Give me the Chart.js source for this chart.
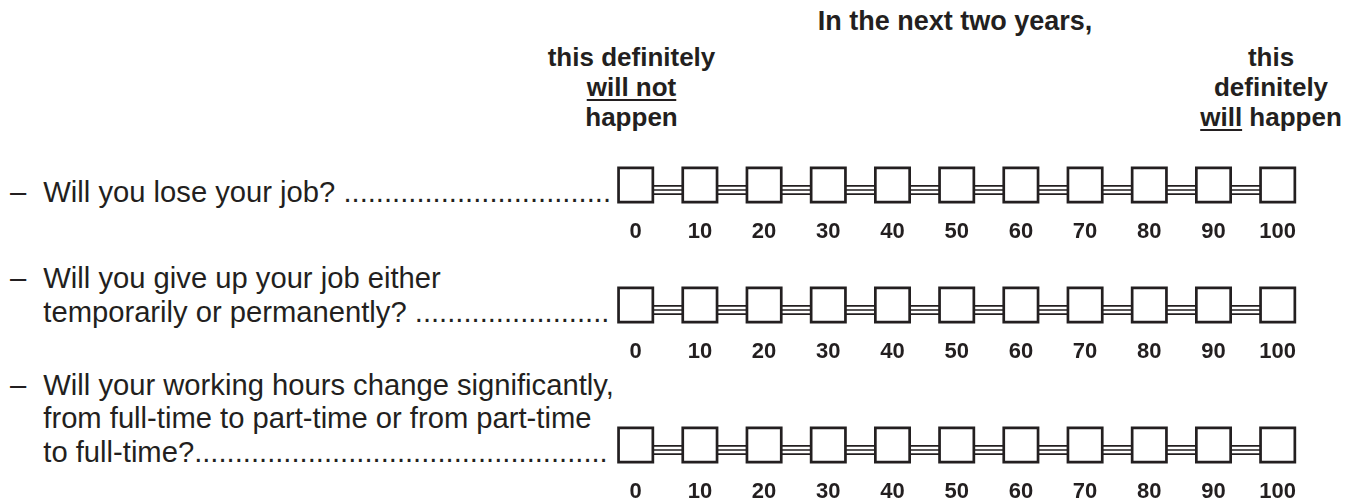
<!DOCTYPE html>
<html><head><meta charset="utf-8">
<script src="https://cdn.jsdelivr.net/npm/chart.js@4.4.1/dist/chart.umd.min.js"></script>
<style>
html,body{margin:0;padding:0;background:#fff;overflow:hidden;width:1346px;height:499px;}
body{position:relative;font-family:"Liberation Sans",Arial,Helvetica,sans-serif;color:#231f20;}
.t{position:absolute;white-space:pre;line-height:1;}
.c{transform:translateX(-50%);text-align:center;}
.b{font-weight:bold;}
u{text-decoration-thickness:2px;text-underline-offset:3px;}
.rowc{position:absolute;left:0;width:1346px;height:110px;}
.rowc canvas{display:block;}
</style></head><body>
<script>
// ---- data ----
const scaleValues = [0, 10, 20, 30, 40, 50, 60, 70, 80, 90, 100];
const tickLabels = ["0", "10", "20", "30", "40", "50", "60", "70", "80", "90", "100"];
const titleText = "In the next two years,";
const lowEndLines = [["this definitely"], ["", "will not", ""], ["happen"]];
const highEndLines = [["this"], ["definitely"], ["", "will", " happen"]];
const questionLines = [
  ["Will you lose your job? ................................."],
  ["Will you give up your job either", "temporarily or permanently? ........................"],
  ["Will your working hours change significantly,", "from full-time to part-time or from part-time", "to full-time?..................................................."]
];

// ---- layout ----
const L = {
  x0: 635.7, x100: 1277.7,
  rowCenters: [184.7, 304.7, 444.7],
  areaTop: 30,
  connectorDrop: 5,
  qSize: 29.2, qLine: 33.5, qLastBase: 18, dashX: 10, qX: 43.3,
  hSize: 26, titleSize: 27
};
const FONT = '"Liberation Sans", Arial, Helvetica, sans-serif';

function place(html, x, baseline, size, bold, center) {
  const d = document.createElement('div');
  d.className = 't' + (bold ? ' b' : '') + (center ? ' c' : '');
  d.style.fontSize = size + 'px';
  d.style.left = x + 'px';
  d.style.top = (baseline - 0.8464 * size) + 'px';
  d.innerHTML = html;
  document.body.appendChild(d);
}
function seg(parts) {
  if (parts.length === 1) return parts[0];
  return parts[0] + '<u>' + parts[1] + '</u>' + parts[2];
}

place(titleText, 955, 31, L.titleSize, true, true);
const hBase = [66, 96, 126];
lowEndLines.forEach((p, i) => place(seg(p), 631.5, hBase[i], L.hSize, true, true));
highEndLines.forEach((p, i) => place(seg(p), 1271, hBase[i], L.hSize, true, true));

questionLines.forEach((lines, r) => {
  const n = lines.length;
  lines.forEach((txt, j) => {
    const base = L.rowCenters[r] + L.qLastBase - (n - 1 - j) * L.qLine;
    if (j === 0) place('\u2013', L.dashX, base, L.qSize, false, false);
    place(txt, L.qX, base, L.qSize, false, false);
  });
});

const shiftPlugin = {
  id: 'shiftConnector',
  beforeDatasetDraw(chart, args) {
    if (chart.data.datasets[args.index].connector) { chart.ctx.save(); chart.ctx.translate(0, L.connectorDrop); }
  },
  afterDatasetDraw(chart, args) {
    if (chart.data.datasets[args.index].connector) chart.ctx.restore();
  }
};

function makeRow(r) {
  const wrap = document.createElement('div');
  wrap.className = 'rowc';
  wrap.style.top = (L.rowCenters[r] - L.areaTop) + 'px';
  const cv = document.createElement('canvas');
  cv.width = 1346; cv.height = 110;
  wrap.appendChild(cv);
  document.body.appendChild(wrap);
  const pts = scaleValues.map(v => ({ x: v, y: 0 }));
  const lineBase = { data: pts, showLine: true, pointRadius: 0, pointHoverRadius: 0, tension: 0, clip: false, connector: true, borderCapStyle: 'butt' };
  new Chart(cv, {
    type: 'scatter',
    data: {
      datasets: [
        { data: pts, pointStyle: 'rect', pointRadius: 24.25, pointHoverRadius: 24.25, pointBorderWidth: 2.7, pointHoverBorderWidth: 2.7,
          pointBackgroundColor: '#fff', pointBorderColor: '#231f20', showLine: false, order: 0, clip: false },
        Object.assign({}, lineBase, { borderColor: '#231f20', borderWidth: 1.6, order: 1 }),
        Object.assign({}, lineBase, { borderColor: '#fff', borderWidth: 6.6, order: 2 }),
        Object.assign({}, lineBase, { borderColor: '#231f20', borderWidth: 10, order: 3 })
      ]
    },
    options: {
      responsive: false, animation: false, devicePixelRatio: 1, events: [],
      layout: { autoPadding: false, padding: { left: L.x0, right: 1346 - L.x100, top: 10, bottom: 0 } },
      plugins: { legend: { display: false }, tooltip: { enabled: false } },
      scales: {
        x: {
          type: 'linear', min: 0, max: 100, position: 'bottom',
          grid: { display: false, drawTicks: false }, border: { display: false },
          afterFit(s) { s.height = 60; },
          ticks: {
            stepSize: 10, autoSkip: false, maxRotation: 0, padding: 14, color: '#231f20',
            font: { family: FONT, size: 22, weight: 'bold' },
            callback: (v) => { const k = scaleValues.indexOf(v); return k < 0 ? '' : tickLabels[k]; }
          }
        },
        y: { type: 'linear', min: -1, max: 1, display: false }
      }
    },
    plugins: [shiftPlugin]
  });
}
questionLines.forEach((_, r) => makeRow(r));
</script>
</body></html>
